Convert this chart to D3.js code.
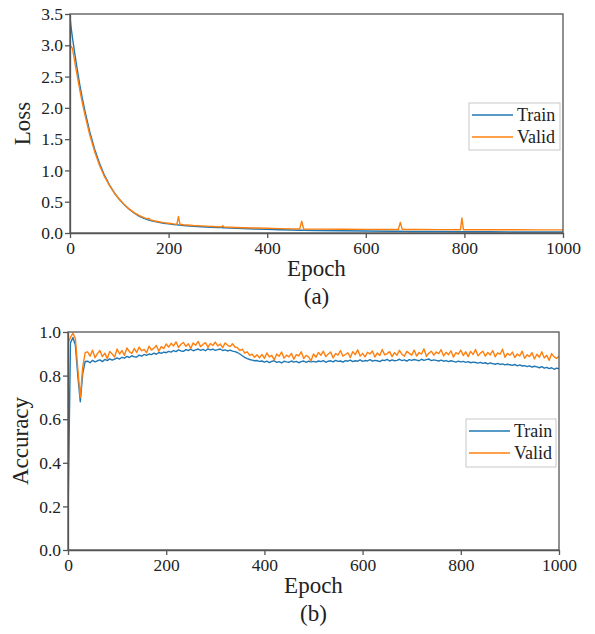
<!DOCTYPE html>
<html>
<head>
<meta charset="utf-8">
<script src="https://cdn.jsdelivr.net/npm/d3@7"></script>
<style>
  body { margin: 0; background: #fff; }
  svg { display: block; font-family: 'Liberation Serif', 'Times New Roman', serif; }
</style>
</head>
<body>
<svg id="chart" width="595" height="634"></svg>
<script>
// ---- data ----
const lossEpochs = [0, 2, 5, 10, 15, 20, 25, 30, 40, 50, 60, 70, 80, 90, 100, 110, 120, 130, 140, 150,
  157, 160, 163, 170, 180, 190, 200, 210, 217, 220, 223, 230, 250, 275, 300, 308, 310, 312, 325, 350,
  375, 400, 425, 450, 466, 470, 474, 500, 550, 600, 650, 666, 670, 674, 700, 750, 792, 795, 798, 850,
  900, 950, 1000];
const trainLoss = [3.45, 3.3, 3.12, 2.85, 2.6, 2.36, 2.15, 1.96, 1.62, 1.34, 1.11, 0.92, 0.77, 0.64, 0.54, 0.45, 0.38, 0.32, 0.27, 0.235,
  0.215, 0.205, 0.2, 0.185, 0.17, 0.155, 0.145, 0.135, 0.13, 0.128, 0.126, 0.12, 0.108, 0.097, 0.088, 0.086, 0.085, 0.085, 0.079, 0.071,
  0.064, 0.058, 0.052, 0.047, 0.044, 0.043, 0.043, 0.04, 0.035, 0.031, 0.028, 0.027, 0.027, 0.026, 0.025, 0.023, 0.021, 0.021, 0.021, 0.019,
  0.017, 0.016, 0.015];
const validLoss = [3.0, 2.98, 2.95, 2.72, 2.5, 2.28, 2.08, 1.9, 1.57, 1.3, 1.08, 0.9, 0.76, 0.64, 0.54, 0.455, 0.385, 0.325, 0.28, 0.245,
  0.225, 0.235, 0.21, 0.195, 0.18, 0.165, 0.155, 0.145, 0.14, 0.265, 0.14, 0.132, 0.12, 0.11, 0.1, 0.098, 0.115, 0.097, 0.092, 0.085,
  0.08, 0.075, 0.07, 0.066, 0.064, 0.19, 0.064, 0.062, 0.06, 0.058, 0.057, 0.056, 0.17, 0.056, 0.055, 0.054, 0.053, 0.24, 0.053, 0.052,
  0.051, 0.05, 0.05];

// accuracy sampled every 5 epochs (0..1000)
const accEpochs = d3.range(0, 1001, 5);
const trainAcc = [0.15, 0.95, 0.975, 0.94, 0.80, 0.68, 0.81, 0.865,
  0.866, 0.859, 0.870, 0.863, 0.868, 0.872, 0.864, 0.874, 0.869, 0.877, 0.871, 0.876, 0.881,
  0.876, 0.884, 0.880, 0.888, 0.883, 0.891, 0.886, 0.885, 0.894, 0.889, 0.897, 0.893, 0.899, 0.896, 0.903, 0.898, 0.906, 0.902, 0.908, 0.905,
  0.911, 0.908, 0.915, 0.910, 0.918, 0.913, 0.911, 0.919, 0.915, 0.921, 0.914, 0.918, 0.922, 0.916, 0.920, 0.914, 0.923, 0.918, 0.921, 0.916,
  0.919, 0.922, 0.915, 0.918, 0.913, 0.917, 0.912, 0.910,
  0.906, 0.899, 0.891, 0.884, 0.878, 0.874, 0.871, 0.868, 0.869, 0.865,
  0.867, 0.862, 0.866, 0.860, 0.865, 0.868, 0.861, 0.864, 0.858, 0.866, 0.863, 0.861, 0.867, 0.862, 0.865, 0.859, 0.864, 0.867, 0.861, 0.866, 0.863, 0.865,
  0.862, 0.867, 0.864, 0.869, 0.861, 0.866, 0.868, 0.863, 0.870, 0.865, 0.867, 0.862, 0.869, 0.866, 0.871, 0.864, 0.868, 0.866, 0.872, 0.865,
  0.869, 0.867, 0.873, 0.866, 0.870, 0.868, 0.864, 0.871, 0.869, 0.874, 0.867, 0.872, 0.868, 0.870, 0.875, 0.869, 0.872, 0.866, 0.873, 0.870,
  0.874, 0.871, 0.868, 0.875, 0.870, 0.873, 0.876, 0.869, 0.872, 0.870, 0.867, 0.871, 0.866, 0.869, 0.864, 0.868, 0.865, 0.862, 0.866, 0.863,
  0.865, 0.861, 0.864, 0.859, 0.862, 0.860, 0.857, 0.861, 0.856, 0.859, 0.854, 0.858, 0.855, 0.852, 0.856, 0.851, 0.854, 0.849, 0.852, 0.850,
  0.847, 0.851, 0.845, 0.849, 0.844, 0.846, 0.841, 0.845, 0.839, 0.843, 0.840, 0.836, 0.841, 0.834, 0.838, 0.832, 0.836, 0.829, 0.834, 0.831];
const validAcc = [0.95, 0.975, 0.995, 0.97, 0.83, 0.70, 0.84, 0.905,
  0.909, 0.889, 0.917, 0.882, 0.901, 0.915, 0.887, 0.903, 0.877, 0.911, 0.899, 0.885, 0.922,
  0.899, 0.915, 0.893, 0.927, 0.910, 0.902, 0.924, 0.906, 0.931, 0.914, 0.920, 0.905, 0.935, 0.917, 0.926, 0.938, 0.912, 0.933, 0.924, 0.945,
  0.931, 0.948, 0.936, 0.955, 0.929, 0.944, 0.952, 0.934, 0.946, 0.925, 0.950, 0.939, 0.957, 0.933, 0.943, 0.951, 0.930, 0.947, 0.938, 0.954,
  0.936, 0.945, 0.928, 0.950, 0.940, 0.933, 0.946, 0.931,
  0.928, 0.915, 0.921, 0.903, 0.909, 0.893, 0.898, 0.884, 0.896, 0.881,
  0.897, 0.879, 0.904, 0.886, 0.893, 0.872, 0.899, 0.889, 0.908, 0.880, 0.894, 0.886, 0.902, 0.875, 0.896, 0.891, 0.909, 0.878, 0.893, 0.886, 0.868, 0.899,
  0.884, 0.906, 0.893, 0.912, 0.887, 0.899, 0.908, 0.881, 0.901, 0.894,
  0.915, 0.889, 0.897, 0.905, 0.883, 0.910, 0.896, 0.918, 0.890, 0.902,
  0.886, 0.907, 0.899, 0.913, 0.885, 0.904, 0.892, 0.920, 0.895, 0.901,
  0.910, 0.887, 0.905, 0.893, 0.916, 0.898, 0.889, 0.911, 0.902, 0.894,
  0.917, 0.890, 0.906, 0.899, 0.923, 0.888, 0.903, 0.912, 0.894, 0.908,
  0.901, 0.919, 0.890, 0.907, 0.896, 0.914, 0.885, 0.905, 0.899, 0.917,
  0.892, 0.909, 0.887, 0.911, 0.897, 0.920, 0.891, 0.903, 0.912, 0.889,
  0.906, 0.895, 0.915, 0.886, 0.904, 0.898, 0.921, 0.884, 0.902, 0.893,
  0.908, 0.883, 0.899, 0.890, 0.912, 0.879, 0.896, 0.887, 0.905, 0.876, 0.898, 0.884, 0.909, 0.881, 0.893, 0.870, 0.901, 0.886, 0.879, 0.889];

const xTicks = [0, 200, 400, 600, 800, 1000];
const lossTicks = [0, 0.5, 1, 1.5, 2, 2.5, 3, 3.5];
const accTicks = [0, 0.2, 0.4, 0.6, 0.8, 1.0];
const seriesNames = ['Train', 'Valid'];

const cfg = {
  blue: '#1f77b4',
  orange: '#ff7f0e',
  axisColor: '#555',
  textColor: '#222',
  tickFont: 17.5,
  labelFont: 23,
  legendFont: 18,
};

const svg = d3.select('#chart');

function drawPanel(opt) {
  const x = d3.scaleLinear().domain([0, 1000]).range([opt.left, opt.right]);
  const y = d3.scaleLinear().domain(opt.yDomain).range([opt.bottom, opt.top]);
  const g = svg.append('g');

  // clip so lines stay inside the frame
  const clipId = 'clip-' + opt.id;
  g.append('clipPath').attr('id', clipId)
    .append('rect')
    .attr('x', opt.left).attr('y', opt.top - 1)
    .attr('width', opt.right - opt.left).attr('height', opt.bottom - opt.top + 1);

  // lines
  const line = d3.line().x(d => x(d[0])).y(d => y(d[1]));
  opt.series.forEach(s => {
    g.append('path')
      .datum(s.epochs.map((e, i) => [e, s.values[i]]))
      .attr('clip-path', 'url(#' + clipId + ')')
      .attr('fill', 'none')
      .attr('stroke', s.color)
      .attr('stroke-width', 1.4)
      .attr('stroke-linejoin', 'round')
      .attr('d', line);
  });

  // frame
  g.append('rect')
    .attr('x', opt.left).attr('y', opt.top)
    .attr('width', opt.right - opt.left).attr('height', opt.bottom - opt.top)
    .attr('fill', 'none').attr('stroke', cfg.axisColor).attr('stroke-width', 1.3);

  // axes
  const xAxis = g.append('g')
    .attr('transform', 'translate(0,' + opt.bottom + ')')
    .call(d3.axisBottom(x).tickValues(xTicks).tickSize(5).tickSizeOuter(0).tickPadding(4)
      .tickFormat(d3.format('d')));
  const yAxis = g.append('g')
    .attr('transform', 'translate(' + opt.left + ',0)')
    .call(d3.axisLeft(y).tickValues(opt.yTicks).tickSize(5).tickSizeOuter(0).tickPadding(2)
      .tickFormat(d3.format('.1f')));
  [xAxis, yAxis].forEach(a => {
    a.select('.domain').attr('stroke', cfg.axisColor).attr('stroke-width', 1.3);
    a.selectAll('.tick line').attr('stroke', cfg.axisColor).attr('stroke-width', 1.3);
    a.selectAll('.tick text')
      .attr('fill', cfg.textColor)
      .style('font-size', cfg.tickFont + 'px')
      .style('font-family', "'Liberation Serif', serif");
  });

  // axis titles
  g.append('text')
    .attr('x', (opt.left + opt.right) / 2).attr('y', opt.bottom + 43)
    .attr('text-anchor', 'middle')
    .attr('fill', cfg.textColor)
    .style('font-size', cfg.labelFont + 'px')
    .text('Epoch');
  g.append('text')
    .attr('transform', 'translate(' + opt.yLabelX + ',' + (opt.top + opt.bottom) / 2 + ') rotate(-90)')
    .attr('text-anchor', 'middle')
    .attr('fill', cfg.textColor)
    .style('font-size', cfg.labelFont + 'px')
    .text(opt.yLabel);
  g.append('text')
    .attr('x', (opt.left + opt.right) / 2).attr('y', opt.bottom + 71)
    .attr('text-anchor', 'middle')
    .attr('fill', cfg.textColor)
    .style('font-size', cfg.labelFont + 'px')
    .text(opt.caption);

  // legend
  const lg = g.append('g');
  lg.append('rect')
    .attr('x', opt.legend.x).attr('y', opt.legend.y)
    .attr('width', opt.legend.w).attr('height', opt.legend.h)
    .attr('fill', '#fff').attr('stroke', '#c8c8c8').attr('stroke-width', 1);
  opt.series.forEach((s, i) => {
    const ly = opt.legend.y + 12 + i * 22;
    lg.append('line')
      .attr('x1', opt.legend.x + 3).attr('x2', opt.legend.x + 44)
      .attr('y1', ly).attr('y2', ly)
      .attr('stroke', s.color).attr('stroke-width', 1.5);
    lg.append('text')
      .attr('x', opt.legend.x + 48).attr('y', ly + 6)
      .attr('fill', cfg.textColor)
      .style('font-size', cfg.legendFont + 'px')
      .text(seriesNames[i]);
  });
}

drawPanel({
  id: 'loss', left: 70, right: 563, top: 14, bottom: 233,
  yDomain: [0, 3.5], yTicks: lossTicks, yLabel: 'Loss', yLabelX: 30, caption: '(a)',
  legend: { x: 469, y: 103, w: 91, h: 47 },
  series: [
    { epochs: lossEpochs, values: trainLoss, color: cfg.blue },
    { epochs: lossEpochs, values: validLoss, color: cfg.orange },
  ],
});

drawPanel({
  id: 'acc', left: 68, right: 559, top: 332, bottom: 550,
  yDomain: [0, 1], yTicks: accTicks, yLabel: 'Accuracy', yLabelX: 28, caption: '(b)',
  legend: { x: 466, y: 419, w: 90, h: 48 },
  series: [
    { epochs: accEpochs, values: trainAcc, color: cfg.blue },
    { epochs: accEpochs, values: validAcc, color: cfg.orange },
  ],
});
</script>
</body>
</html>
